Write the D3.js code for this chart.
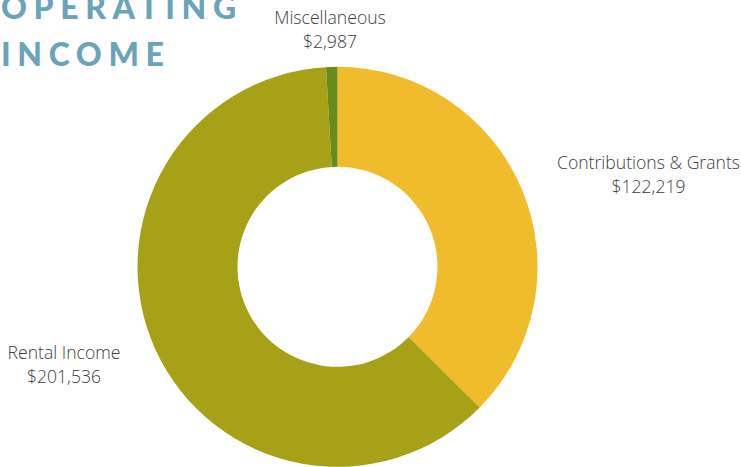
<!DOCTYPE html>
<html>
<head>
<meta charset="utf-8">
<script src="https://cdn.jsdelivr.net/npm/d3@7"></script>
<style>
  html, body { margin: 0; padding: 0; background: #fff; overflow: hidden; }
</style>
</head>
<body>
<div id="chart"></div>
<script>
const categories = ["Contributions & Grants", "Rental Income", "Miscellaneous"];
const values = [122219, 201536, 2987];
const colors = ["#F1BC2B", "#A7A117", "#6A8A1C"];
const titleLines = ["OPERATING", "INCOME"];
// label anchor spots (centre x, baseline of first line)
const labelPos = [[648.5, 169], [64, 359], [330, 24]];

const width = 741;
const height = 467;
const cx = 337.5, cy = 266.8;
const outerR = 200, innerR = 100;

const svg = d3.select("#chart").append("svg")
  .attr("width", width)
  .attr("height", height);

// title
svg.append("g")
  .selectAll("text")
  .data(titleLines)
  .join("text")
  .attr("x", 1)
  .attr("y", (d, i) => 19 + i * 47)
  .attr("fill", "#6AA3BA")
  .style("font-family", "Lato, 'Open Sans', sans-serif")
  .style("font-weight", 900)
  .style("font-size", "32px")
  .style("letter-spacing", "6.6px")
  .text(d => d);

const pie = d3.pie().sort(null).value(d => d)(values);
const arc = d3.arc().innerRadius(innerR).outerRadius(outerR);

const g = svg.append("g").attr("transform", `translate(${cx},${cy})`);
g.selectAll("path")
  .data(pie)
  .join("path")
  .attr("d", arc)
  .attr("fill", (d, i) => colors[i]);

const fmt = d3.format("$,");
const labels = svg.append("g")
  .selectAll("text")
  .data(categories)
  .join("text")
  .attr("text-anchor", "middle")
  .attr("fill", "#3d3d3d")
  .style("font-family", "'Open Sans', sans-serif")
  .style("font-weight", 300)
  .style("font-size", "17.6px");

labels.append("tspan")
  .attr("x", (d, i) => labelPos[i][0])
  .attr("y", (d, i) => labelPos[i][1])
  .text(d => d);
labels.append("tspan")
  .attr("x", (d, i) => labelPos[i][0])
  .attr("y", (d, i) => labelPos[i][1] + 24)
  .text((d, i) => fmt(values[i]));
</script>
</body>
</html>
